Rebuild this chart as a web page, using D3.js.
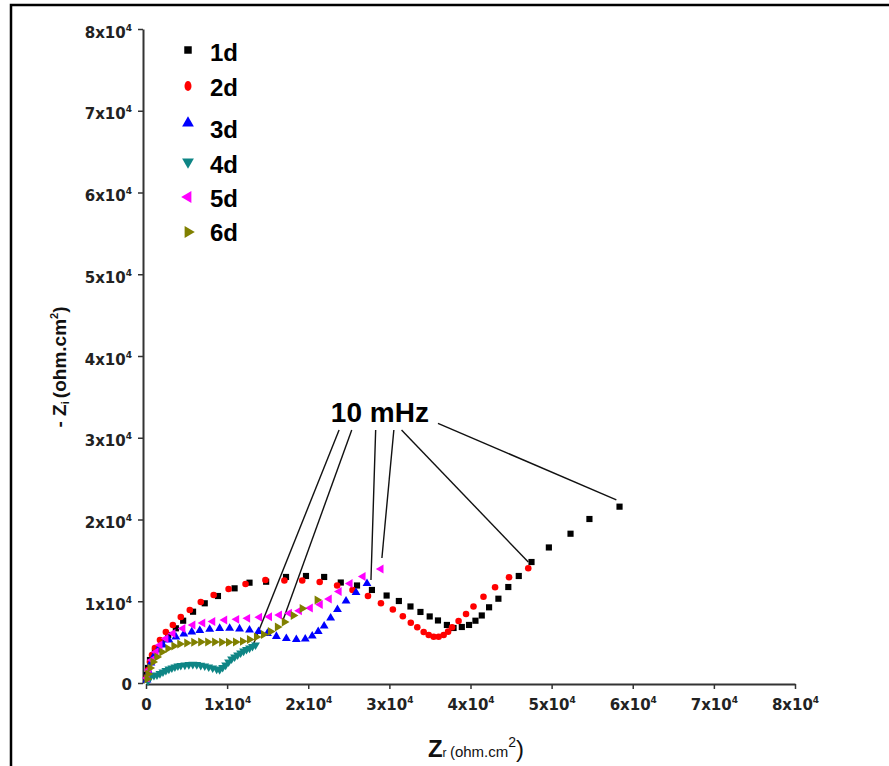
<!DOCTYPE html>
<meta charset="utf-8">
<style>

body { margin: 0; background: #fff; }

.axis path, .axis line {
  stroke: #333;
}

.axis text {
  font-family: "DejaVu Sans", sans-serif;
  font-weight: bold;
  font-size: 15px;
  fill: #222;
}

.legend text {
  font-family: "Liberation Sans", Arial, sans-serif;
  font-weight: bold;
  font-size: 24px;
}

</style>
<svg></svg>
<script src="https://d3js.org/d3.v7.min.js"></script>
<script>

// NYQUIST DATA, [Zr, -Zi] IN ohm.cm2
var d1 = [[100,980],[250,1840],[490,2810],[1100,3830],[1930,4860],[2740,5870],[3680,6690],[4580,7620],[5800,8720],[7240,9750],[8870,10640],[10920,11580],[12760,12270],[14810,12390],[17260,12970],[19720,13090],[21960,12970],[24010,12290],[26010,11930],[27850,11380],[29660,10700],[31170,10030],[32600,9360],[33830,8690],[34970,8140],[35990,7650],[37090,7100],[37910,6730],[38930,6850],[39820,7100],[40610,7620],[41390,8260],[42290,9260],[43440,10310],[44660,11740],[45950,13090],[47520,14800],[49660,16580],[52330,18260],[54660,20060],[58370,21570]];

var d2 = [[120,730],[250,1590],[490,2570],[740,3430],[1100,4280],[1720,5260],[2450,6240],[3310,7100],[4290,8070],[5400,8930],[6750,9910],[8340,10770],[10180,11500],[12270,12110],[14720,12600],[17060,12540],[19260,12540],[21410,12360],[23560,11930],[25460,11380],[27360,10640],[28960,9750],[30430,8990],[31660,8160],[32640,7380],[33440,6810],[34230,6240],[34850,5870],[35460,5660],[36070,5660],[36690,5870],[37240,6280],[37730,6810],[38530,7580],[39450,8440],[40370,9360],[41600,10560],[43030,11710],[44750,12930],[47120,14030]];

var d3s = [[120,370],[370,1350],[610,2450],[980,3300],[1470,4040],[2090,4650],[2820,5260],[3680,5630],[4660,5990],[5640,6240],[6630,6420],[7850,6570],[9080,6670],[10310,6690],[11530,6610],[12760,6480],[13870,6300],[14970,6060],[16070,5690],[17300,5440],[18530,5320],[19630,5380],[20490,5750],[21230,6300],[21960,6970],[22760,7950],[23600,8990],[24660,10030],[25890,11070],[27240,12170]];

var d4 = [[250,250],[370,610],[610,860],[980,920],[1350,980],[1720,1160],[2090,1350],[2450,1530],[2820,1710],[3190,1840],[3560,1960],[3930,2080],[4290,2140],[4790,2200],[5280,2260],[5770,2290],[6260,2260],[6750,2170],[7240,2080],[7730,1960],[8220,1840],[8710,1710],[9080,1650],[9450,1900],[9820,2200],[10180,2570],[10550,2940],[10920,3180],[11290,3430],[11660,3670],[12030,3910],[12390,4100],[12760,4280],[13130,4470],[13500,4650]];

var d5 = [[120,610],[370,1590],[740,2810],[1230,3790],[1720,4650],[2450,5440],[3310,6060],[4540,6670],[5770,7100],[6990,7340],[8220,7520],[9690,7710],[11170,7790],[12520,7910],[13990,8040],[15220,8110],[16440,8320],[17670,8530],[18900,8840],[20250,9170],[21470,9600],[22580,10280],[23800,11190],[25150,12170],[26750,13030],[28960,13950]];

var d6 = [[120,490],[250,1100],[490,1840],[860,2570],[1350,3180],[1960,3790],[2700,4220],[3440,4530],[4170,4770],[5030,4890],[5890,4980],[6750,5020],[7610,5020],[8470,5020],[9330,4980],[10180,4980],[11040,5020],[11900,5100],[12760,5320],[13620,5630],[14480,5930],[15340,6300],[16200,6850],[17060,7460],[18160,8260],[19260,9110],[21100,10150]];

var labels = ["1d", "2d", "3d", "4d", "5d", "6d"];
var colors = ["#000000", "#ff0000", "#0000ff", "#0e8585", "#ff00ff", "#808000"];
var tickVals = [0, 10000, 20000, 30000, 40000, 50000, 60000, 70000, 80000];

// 10 mHz annotation, leader lines from label to points
var annText = "10 mHz";
var annAt = [28830, 31930];
var annFrom = [[23800,30950],[25360,30950],[28310,30950],[30550,30950],[31500,30950],[35990,31770]];
var annTo = [[13250,4770],[16850,7580],[27730,12600],[29080,15290],[47120,14800],[57980,22390]];

var series = [d1, d2, d3s, d4, d5, d6];

var svg = d3.select("svg")
    .attr("width", 889)
    .attr("height", 766);

svg.append("rect")
    .attr("width", 889)
    .attr("height", 766)
    .attr("fill", "#fff");

// frame (only top and left edges show in the picture)
svg.append("path")
    .attr("d", "M11,766 V5 H889")
    .attr("fill", "none")
    .attr("stroke", "#000")
    .attr("stroke-width", 2.5);

var x = d3.scaleLinear().domain([0, 80000]).range([146, 795]);
var y = d3.scaleLinear().domain([0, 80000]).range([683, 29]);

function sciLabel(d) {
  var t = d3.select(this).text("");
  if (d === 0) { t.text("0"); return; }
  t.append("tspan").text((d / 10000) + "x10");
  t.append("tspan").attr("dy", -7).attr("font-size", 9).text("4");
}

var xAxis = svg.append("g")
    .attr("class", "axis")
    .attr("transform", "translate(0,684)")
    .call(d3.axisBottom(x).tickValues(tickVals).tickSize(5).tickSizeOuter(0));
xAxis.select(".domain").attr("stroke-width", 2);
xAxis.selectAll(".tick line").attr("stroke-width", 1.5);
xAxis.selectAll(".tick text")
    .attr("y", 26).attr("dy", 0)
    .each(sciLabel);

var yAxis = svg.append("g")
    .attr("class", "axis")
    .attr("transform", "translate(143,0)")
    .call(d3.axisLeft(y).tickValues(tickVals).tickSize(5).tickSizeOuter(0));
yAxis.select(".domain").attr("stroke-width", 2);
yAxis.selectAll(".tick line").attr("stroke-width", 1.5);
yAxis.selectAll(".tick text")
    .attr("x", -11).attr("dy", 0)
    .attr("y", function(d) { return d === 0 ? 6 : 8; })
    .each(sciLabel);

// axis titles
var xt = svg.append("text")
    .attr("x", 476)
    .attr("y", 757)
    .attr("text-anchor", "middle")
    .attr("font-family", "Liberation Sans, Arial, sans-serif")
    .attr("font-weight", "bold")
    .attr("fill", "#111");
xt.append("tspan").attr("font-size", 24).text("Z");
xt.append("tspan").attr("font-size", 12).attr("font-weight", "normal").text("r ");
xt.append("tspan").attr("font-size", 15).attr("font-weight", "normal").text("(ohm.cm");
xt.append("tspan").attr("font-size", 14).attr("font-weight", "normal").attr("dy", -10).text("2");
xt.append("tspan").attr("font-size", 24).attr("font-weight", "normal").attr("dy", 10).text(")");

var yt = svg.append("text")
    .attr("transform", "translate(66,367) rotate(-90)")
    .attr("text-anchor", "middle")
    .attr("font-family", "Liberation Sans, Arial, sans-serif")
    .attr("font-weight", "bold")
    .attr("fill", "#111");
yt.append("tspan").attr("font-size", 19).text("- Z");
yt.append("tspan").attr("font-size", 11).attr("dy", 3).text("i ");
yt.append("tspan").attr("font-size", 19).attr("dy", -3).text("(ohm.cm");
yt.append("tspan").attr("font-size", 11).attr("dy", -8).text("2");
yt.append("tspan").attr("font-size", 19).attr("dy", 8).text(")");

// marker shapes per series
var shapes = [
  { type: d3.symbolSquare, size: 38, rot: 0 },
  { type: d3.symbolCircle, size: 34, rot: 0 },
  { type: d3.symbolTriangle, size: 34, rot: 0 },
  { type: d3.symbolTriangle, size: 34, rot: 180 },
  { type: d3.symbolTriangle, size: 34, rot: -90 },
  { type: d3.symbolTriangle, size: 34, rot: 90 }
];

// annotation leader lines
svg.append("g")
    .selectAll("line")
    .data(annFrom)
    .enter().append("line")
      .attr("x1", function(d) { return x(d[0]); })
      .attr("y1", function(d) { return y(d[1]); })
      .attr("x2", function(d, i) { return x(annTo[i][0]); })
      .attr("y2", function(d, i) { return y(annTo[i][1]); })
      .attr("stroke", "#111")
      .attr("stroke-width", 1.4);

svg.append("text")
    .attr("x", x(annAt[0]))
    .attr("y", y(annAt[1]))
    .attr("text-anchor", "middle")
    .attr("font-family", "Liberation Sans, Arial, sans-serif")
    .attr("font-weight", "bold")
    .attr("font-size", 28)
    .text(annText);

series.forEach(function(s, i) {
  var sym = d3.symbol().type(shapes[i].type).size(shapes[i].size);
  svg.append("g")
    .selectAll("path")
    .data(s)
    .enter().append("path")
      .attr("d", sym)
      .attr("fill", colors[i])
      .attr("transform", function(d) {
        return "translate(" + x(d[0]) + "," + y(d[1]) + ") rotate(" + shapes[i].rot + ")";
      });
});

// LEGEND
var legY = [50, 86, 123, 162, 197, 232];
var legTextY = [61, 96, 138, 173, 207, 241];
var legend = svg.append("g").attr("class", "legend");
labels.forEach(function(lab, i) {
  var sym = d3.symbol().type(shapes[i].type).size(i === 0 ? 56 : 60);
  legend.append("path")
      .attr("d", sym)
      .attr("fill", colors[i])
      .attr("transform", "translate(188," + legY[i] + ") rotate(" + shapes[i].rot + ")" + (i === 1 ? " scale(0.8,1.15)" : ""));
  legend.append("text")
      .attr("x", 210)
      .attr("y", legTextY[i])
      .text(lab);
});

</script>
